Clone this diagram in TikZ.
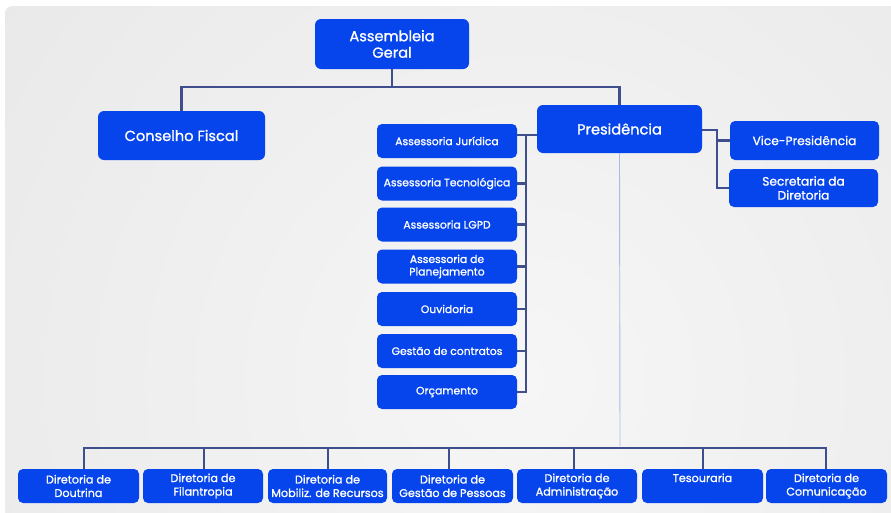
\documentclass[tikz,border=0pt]{standalone}
\usepackage{fontspec}
\setmainfont{Poppins}[BoldFont=Poppins, BoldFeatures={FakeBold=1.1}]
\usetikzlibrary{positioning}
\definecolor{boxblue}{HTML}{0645EB}
\definecolor{linecol}{HTML}{3F4E8C}
\definecolor{thincol}{HTML}{A9BCE6}
\definecolor{panelgray}{HTML}{E4E4E4}
\definecolor{panellight}{HTML}{F6F6F6}
\tikzset{
  bigbox/.style={fill=boxblue, text=white, rounded corners=6pt, align=center, inner sep=0pt, font=\bfseries\fontsize{14.6}{16.5}\selectfont},
  midbox/.style={fill=boxblue, text=white, rounded corners=5pt, align=center, inner sep=0pt, font=\bfseries\fontsize{12.2}{14}\selectfont},
  smallbox/.style={fill=boxblue, text=white, rounded corners=5pt, align=center, inner sep=0pt, minimum width=140pt, minimum height=34pt, font=\bfseries\fontsize{10.8}{12.5}\selectfont},
  dirbox/.style={fill=boxblue, text=white, rounded corners=5pt, align=center, inner sep=0pt, minimum height=34pt, font=\bfseries\fontsize{11.2}{13.5}\selectfont},
  conn/.style={draw=linecol, line width=2.4pt},
  thinconn/.style={draw=thincol, line width=0.9pt}
}
\begin{document}
\begin{tikzpicture}[x=1pt,y=-1pt]
\useasboundingbox (0,0) rectangle (891,512);
% background
\fill[white] (0,0) rectangle (891,512);
\begin{scope}
  \clip[rounded corners=8pt] (5,6) rectangle (905,525);
  \fill[panelgray] (0,0) rectangle (891,512);
  \shade[inner color=panellight, outer color=panelgray] (520,380) circle[radius=900pt];
\end{scope}
% main nodes
\node[bigbox, minimum width=154pt, minimum height=50pt] (ag) at (392,44) {Assembleia\\Geral};
\node[bigbox, minimum width=167pt, minimum height=49pt] (cf) at (181.5,135.5) {Conselho Fiscal};
\node[bigbox, minimum width=165pt, minimum height=48pt] (pres) at (619.5,129) {Presidência};
\node[midbox, minimum width=149pt, minimum height=39pt] (vp) at (804.5,140.5) {Vice-Presidência};
\node[midbox, minimum width=149pt, minimum height=38pt] (sd) at (803.5,188) {Secretaria da\\Diretoria};
% advisory column
\node[smallbox] (aj) at (447,141) {Assessoria Jurídica};
\node[smallbox] (at) at (447,183.5) {Assessoria Tecnológica};
\node[smallbox] (al) at (447,224.5) {Assessoria LGPD};
\node[smallbox] (ap) at (447,266.5) {Assessoria de\\Planejamento};
\node[smallbox] (ou) at (447,309) {Ouvidoria};
\node[smallbox] (gc) at (447,351) {Gestão de contratos};
\node[smallbox] (or) at (447,392) {Orçamento};
% directorates
\node[dirbox, minimum width=121pt] (d1) at (78.5,486) {Diretoria de\\Doutrina};
\node[dirbox, minimum width=120pt] (d2) at (203,486) {Diretoria de\\Filantropia};
\node[dirbox, minimum width=119pt] (d3) at (327.5,486) {Diretoria de\\Mobiliz. de Recursos};
\node[dirbox, minimum width=121pt] (d4) at (452.5,486) {Diretoria de\\Gestão de Pessoas};
\node[dirbox, minimum width=120pt] (d5) at (577,486) {Diretoria de\\Administração};
\node[dirbox, minimum width=121pt] (d6) at (702.5,486) {Tesouraria\\\phantom{Xg}};
\node[dirbox, minimum width=121pt] (d7) at (826.5,486) {Diretoria de\\Comunicação};
% coordinates
\coordinate (top) at (392,87);
\coordinate (pj) at (717,130);
\coordinate (lt) at (526,135);
\coordinate (thinend) at (620,446);
\coordinate (s1) at (84,448);
\coordinate (s2) at (204,448);
\coordinate (s3) at (328,448);
\coordinate (s4) at (449,448);
\coordinate (s5) at (574,448);
\coordinate (s6) at (703,448);
\coordinate (s7) at (826,448);
% connectors
\draw[thinconn] (pres.south) -- (thinend);
\draw[conn] (ag.south) -- (top);
\draw[conn] (cf.north) -- (cf.north |- top) -- (pres.north |- top) -- (pres.north);
\draw[conn] (pres.east |- pj) -- (pj) |- (sd.west);
\draw[conn] (pj |- vp.west) -- (vp.west);
\draw[conn] (aj.east |- lt) -- (lt -| pres.west);
\draw[conn] (lt) -- (lt |- or.east) -- (or.east);
\foreach \n in {at,al,ap,ou,gc}{
  \draw[conn] (\n.east) -- (\n.east -| lt);
}
\draw[conn, line cap=rect] (s1) -- (s7);
\foreach \i in {1,...,7}{
  \draw[conn] (s\i) -- (s\i |- d\i.north);
}
\end{tikzpicture}
\end{document}
